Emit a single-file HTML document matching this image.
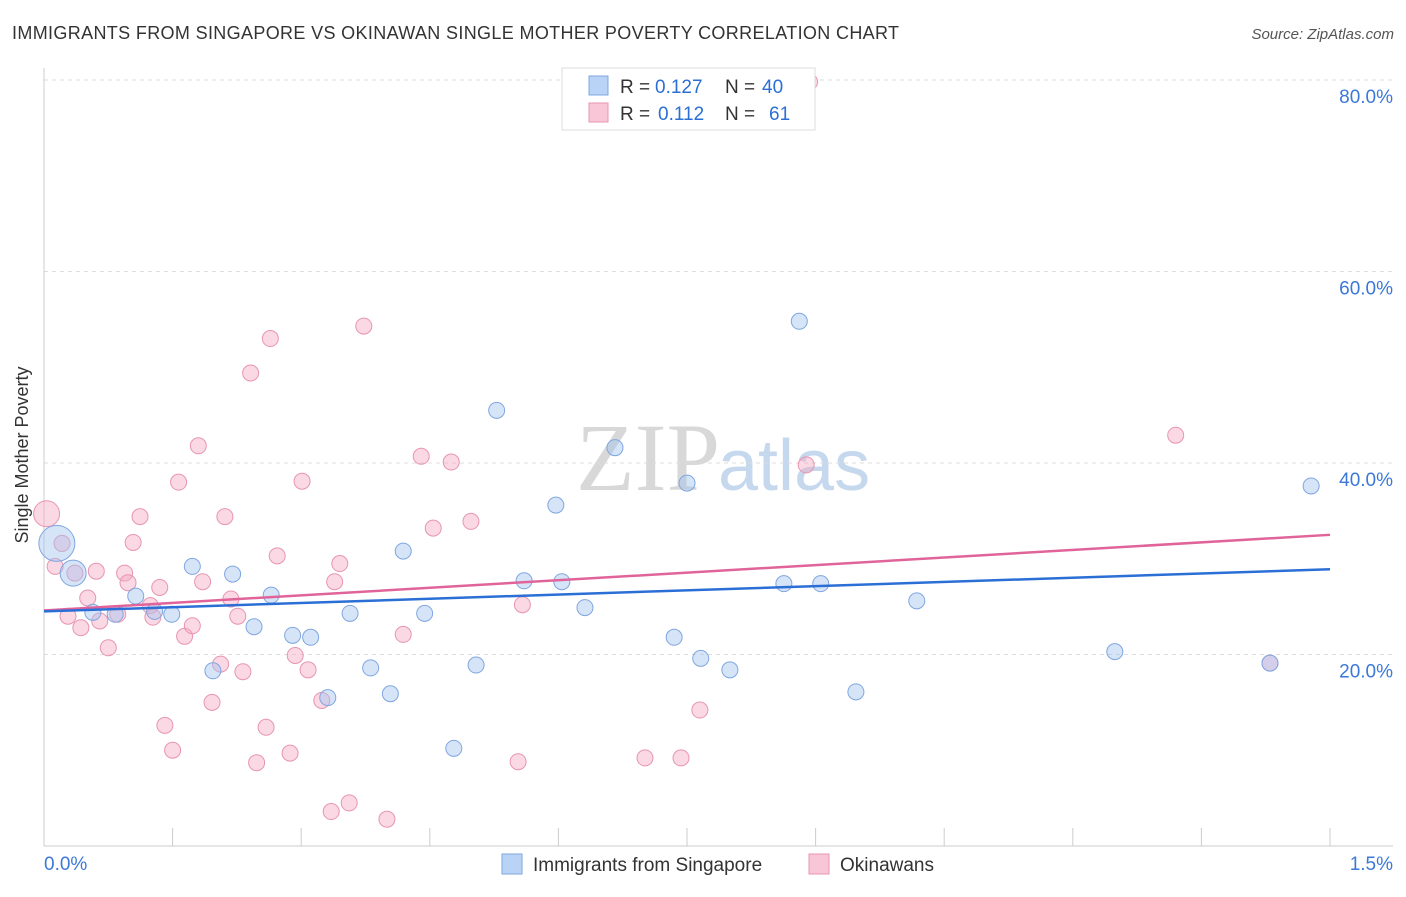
<!DOCTYPE html>
<html><head><meta charset="utf-8"><style>
body{margin:0;background:#fff;font-family:"Liberation Sans",sans-serif}
</style></head><body>
<svg id="c" width="1406" height="892" xmlns="http://www.w3.org/2000/svg" style="font-family:'Liberation Sans',sans-serif">
<text x="12" y="39" font-size="18" fill="#333" letter-spacing="0.35">IMMIGRANTS FROM SINGAPORE VS OKINAWAN SINGLE MOTHER POVERTY CORRELATION CHART</text>
<text x="1394" y="39" font-size="15" fill="#555" font-style="italic" text-anchor="end">Source: ZipAtlas.com</text>
<text x="720" y="490" font-size="96" fill="#d8d8d8" text-anchor="end" font-family="Liberation Serif">ZIP</text>
<text x="718" y="490" font-size="72" fill="#c5d8ee">atlas</text>
<text x="28" y="455" font-size="18" fill="#333" text-anchor="middle" transform="rotate(-90 28 455)">Single Mother Poverty</text>
<g id="grid"></g><g id="axes"></g><g id="pts"></g><g id="lines"></g>
<g>
<rect x="562" y="68" width="253" height="62" fill="#fff" stroke="#ddd"/>
<rect x="589" y="76" width="19" height="19" fill="#b8d3f5" stroke="#7fa6e0"/>
<rect x="589" y="103" width="19" height="19" fill="#f8c6d6" stroke="#e895b0"/>
<text x="620" y="93" font-size="19" fill="#333">R =</text>
<text x="655" y="93" font-size="19" fill="#2b6fd6">0.127</text>
<text x="725" y="93" font-size="19" fill="#333">N =</text>
<text x="762" y="93" font-size="19" fill="#2b6fd6">40</text>
<text x="620" y="120" font-size="19" fill="#333">R =</text>
<text x="658" y="120" font-size="19" fill="#2b6fd6">0.112</text>
<text x="725" y="120" font-size="19" fill="#333">N =</text>
<text x="769" y="120" font-size="19" fill="#2b6fd6">61</text>
</g>
<g>
<rect x="502" y="854" width="20" height="20" fill="#b8d3f5" stroke="#7fa6e0"/>
<text x="533" y="871" font-size="19" fill="#333">Immigrants from Singapore</text>
<rect x="809" y="854" width="20" height="20" fill="#f8c6d6" stroke="#e895b0"/>
<text x="840" y="871" font-size="19" fill="#333">Okinawans</text>
</g>
</svg>
<script>
const yTicks=[20,40,60,80];
const xTickCount=10;
const blueX=[0.015,0.034,0.057,0.083,0.107,0.129,0.149,0.173,0.197,0.220,0.245,0.265,0.290,0.311,0.331,0.357,0.381,0.404,0.419,0.444,0.478,0.504,0.528,0.560,0.597,0.604,0.631,0.666,0.735,0.750,0.766,0.800,0.863,0.881,0.906,0.947,1.018,1.249,1.430,1.478];
const blueY=[31.6,28.5,24.4,24.2,26.1,24.5,24.2,29.2,18.3,28.4,22.9,26.2,22.0,21.8,15.5,24.3,18.6,15.9,30.8,24.3,10.2,18.9,45.5,27.7,35.6,27.6,24.9,41.6,21.8,37.9,19.6,18.4,27.4,54.8,27.4,16.1,25.6,20.3,19.1,37.6];
const blueR=[18,13,8,8,8,8,8,8,8,8,8,8,8,8,8,8,8,8,8,8,8,8,8,8,8,8,8,8,8,8,8,8,8,8,8,8,8,8,8,8];
const pinkX=[0.003,0.013,0.021,0.036,0.028,0.043,0.051,0.061,0.065,0.075,0.086,0.094,0.098,0.104,0.112,0.124,0.127,0.135,0.141,0.150,0.157,0.164,0.173,0.180,0.185,0.196,0.206,0.211,0.218,0.226,0.232,0.241,0.248,0.259,0.264,0.272,0.287,0.293,0.301,0.308,0.324,0.335,0.339,0.345,0.356,0.373,0.400,0.419,0.440,0.454,0.475,0.498,0.553,0.558,0.701,0.743,0.765,0.889,0.893,1.320,1.430];
const pinkY=[34.7,29.2,31.6,28.5,24.0,22.8,25.9,28.7,23.5,20.7,24.2,28.5,27.5,31.7,34.4,25.1,23.9,27.0,12.6,10.0,38.0,21.9,23.0,41.8,27.6,15.0,19.0,34.4,25.8,24.0,18.2,49.4,8.7,12.4,53.0,30.3,9.7,19.9,38.1,18.4,15.2,3.6,27.6,29.5,4.5,54.3,2.8,22.1,40.7,33.2,40.1,33.9,8.8,25.2,9.2,9.2,14.2,39.8,79.8,42.9,19.1];
const blueTrend=[24.5,28.9];
const pinkTrend=[24.6,32.5];
const X0=44,X1=1330,Y0=846,YPX=191.5/20;
const sx=v=>X0+v/1.5*(X1-X0), sy=v=>Y0-v*YPX;
const NS="http://www.w3.org/2000/svg";
function mk(t,a,p){const e=document.createElementNS(NS,t);for(const k in a)e.setAttribute(k,a[k]);document.getElementById(p).appendChild(e);return e;}
yTicks.forEach(t=>{
 const l=mk('line',{x1:44,x2:1393,y1:sy(t),y2:sy(t),stroke:'#ddd','stroke-dasharray':'4 4'},'grid');
 
 
 const tx=mk('text',{x:1393,y:sy(t)+23,'font-size':19,fill:'#3b78d8','text-anchor':'end'},'grid');
 tx.textContent=t.toFixed(1)+'%';
 
 
});
let a=mk('line',{x1:44,x2:44,y1:68,y2:846,stroke:'#ccc'},'axes');


a=mk('line',{x1:44,x2:1393,y1:846,y2:846,stroke:'#ccc'},'axes');


for(let i=1;i<=xTickCount;i++){const x=X0+i*(X1-X0)/xTickCount;
 const t=mk('line',{x1:x,x2:x,y1:828,y2:846,stroke:'#ccc'},'axes');
 
 }
let t=mk('text',{x:44,y:870,'font-size':19,fill:'#3b78d8'},'axes');t.textContent='0.0%';


t=mk('text',{x:1393,y:870,'font-size':19,fill:'#3b78d8','text-anchor':'end'},'axes');t.textContent='1.5%';


pinkX.forEach((v,i)=>{const c=mk('circle',{cx:sx(v),cy:sy(pinkY[i]),r:i==0?13:8,fill:'rgba(245,168,195,0.45)',stroke:'#e895b0','stroke-width':1},'pts');
 
 });
blueX.forEach((v,i)=>{const c=mk('circle',{cx:sx(v),cy:sy(blueY[i]),r:blueR[i],fill:'rgba(164,196,240,0.45)',stroke:'#7fa6e0','stroke-width':1},'pts');
 
 });
let L=mk('line',{x1:sx(0),x2:sx(1.5),y1:sy(pinkTrend[0]),y2:sy(pinkTrend[1]),stroke:'#e0649a','stroke-width':2.5},'lines');


L=mk('line',{x1:sx(0),x2:sx(1.5),y1:sy(blueTrend[0]),y2:sy(blueTrend[1]),stroke:'#2b6fd6','stroke-width':2.5},'lines');


</script>
</body></html>
